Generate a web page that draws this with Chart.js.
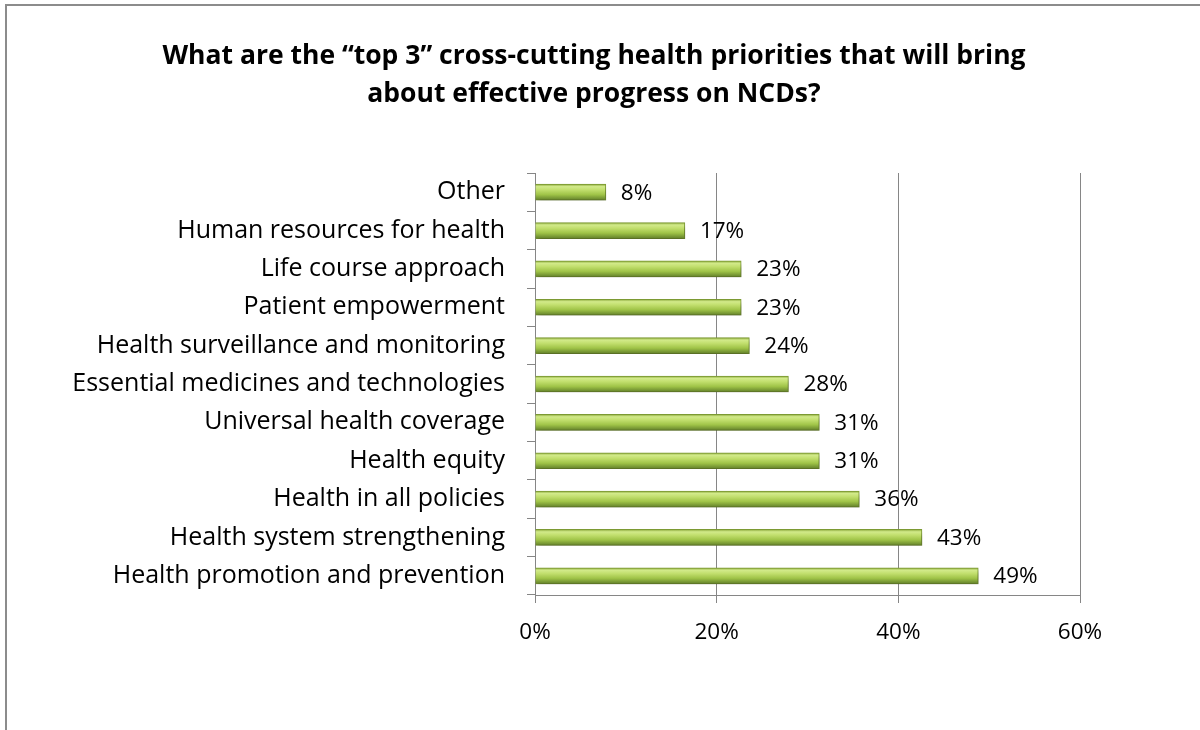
<!DOCTYPE html>
<html>
<head>
<meta charset="utf-8">
<script src="https://cdn.jsdelivr.net/npm/chart.js@4.4.1/dist/chart.umd.min.js"></script>
<style>
  html, body { margin: 0; padding: 0; background: #fff; }
  #wrap { position: relative; width: 1200px; height: 730px; overflow: hidden; }
  #frame { position: absolute; left: 5px; top: 4px; width: 1300px; height: 900px; border: 2px solid #8c8c8c; box-sizing: border-box; }
  #chart { position: absolute; left: 0; top: 0; }
</style>
</head>
<body>
<div id="wrap">
  <div id="frame"></div>
  <canvas id="chart" width="1200" height="730"></canvas>
</div>
<script>
const titleLines = [
  "What are the \u201ctop 3\u201d cross-cutting health priorities that will bring",
  "about effective progress on NCDs?",
];
const categories = [
  "Other",
  "Human resources for health",
  "Life course approach",
  "Patient empowerment",
  "Health surveillance and monitoring",
  "Essential medicines and technologies",
  "Universal health coverage",
  "Health equity",
  "Health in all policies",
  "Health system strengthening",
  "Health promotion and prevention",
];
const values = [7.8, 16.5, 22.7, 22.7, 23.6, 27.9, 31.3, 31.3, 35.7, 42.6, 48.8];
const tickValues = [0, 20, 40, 60];

const FONT = "'Open Sans', sans-serif";

// vertical gradient for each bar, gives the shiny cylinder look
const barFill = (ctx) => {
  const chart = ctx.chart;
  const y = chart.scales.y;
  if (!y || ctx.dataIndex === undefined) return "#a6c94c";
  const c = y.getPixelForValue(ctx.dataIndex);
  if (!isFinite(c)) return "#a6c94c";
  const g = chart.ctx.createLinearGradient(0, c - 8, 0, c + 8);
  g.addColorStop(0, "#8aa83a");
  g.addColorStop(0.15, "#d2ea8a");
  g.addColorStop(0.35, "#c2df6e");
  g.addColorStop(0.65, "#a0c448");
  g.addColorStop(1, "#62802a");
  return g;
};

const titlePlugin = {
  id: "titleText",
  afterDraw(chart) {
    const c = chart.ctx;
    c.save();
    c.fillStyle = "#000";
    c.font = "bold 26.5px " + FONT;
    c.textAlign = "center";
    c.textBaseline = "alphabetic";
    titleLines.forEach((t, i) => c.fillText(t, 594, 64 + i * 38));
    c.restore();
  },
};

const shadowPlugin = {
  id: "barShadow",
  beforeDatasetsDraw(chart) {
    const c = chart.ctx;
    c.save();
    c.shadowColor = "rgba(0,0,0,0.3)";
    c.shadowBlur = 5;
    c.shadowOffsetX = 2;
    c.shadowOffsetY = 4;
  },
  afterDatasetsDraw(chart) {
    chart.ctx.restore();
  },
};

const valueLabels = {
  id: "valueLabels",
  afterDatasetsDraw(chart) {
    const c = chart.ctx;
    const meta = chart.getDatasetMeta(0);
    c.save();
    c.fillStyle = "#000";
    c.font = "22.5px " + FONT;
    c.textAlign = "left";
    c.textBaseline = "middle";
    meta.data.forEach((bar, i) => {
      c.fillText(Math.round(values[i]) + "%", bar.x + 15, bar.y + 1);
    });
    c.restore();
  },
};

new Chart(document.getElementById("chart"), {
  type: "bar",
  data: {
    labels: categories,
    datasets: [
      {
        data: values,
        backgroundColor: barFill,
        borderColor: "#7d9b33",
        borderWidth: 1,
        barThickness: 16,
      },
    ],
  },
  plugins: [titlePlugin, shadowPlugin, valueLabels],
  options: {
    indexAxis: "y",
    responsive: false,
    animation: false,
    layout: {
      padding: { top: 173, right: 120, bottom: 85, left: 0 },
    },
    plugins: {
      legend: { display: false },
      tooltip: { enabled: false },
    },
    scales: {
      x: {
        min: 0,
        max: 60,
        afterFit: (s) => { s.height = 50; },
        afterBuildTicks: (s) => { s.ticks = tickValues.map((v) => ({ value: v })); },
        grid: {
          color: "#868686",
          lineWidth: 1,
          tickLength: 8,
          drawTicks: true,
        },
        border: { color: "#868686", width: 1 },
        ticks: {
          color: "#000",
          padding: 16,
          font: { family: FONT, size: 22.5 },
          callback: (v) => v + "%",
          maxRotation: 0,
        },
      },
      y: {
        afterFit: (s) => { s.width = 535; },
        grid: {
          drawOnChartArea: false,
          color: "#868686",
          tickLength: 8,
        },
        border: { color: "#868686", width: 1 },
        ticks: {
          color: "#000",
          padding: 22,
          autoSkip: false,
          font: { family: FONT, size: 25 },
        },
      },
    },
  },
});
</script>
</body>
</html>
